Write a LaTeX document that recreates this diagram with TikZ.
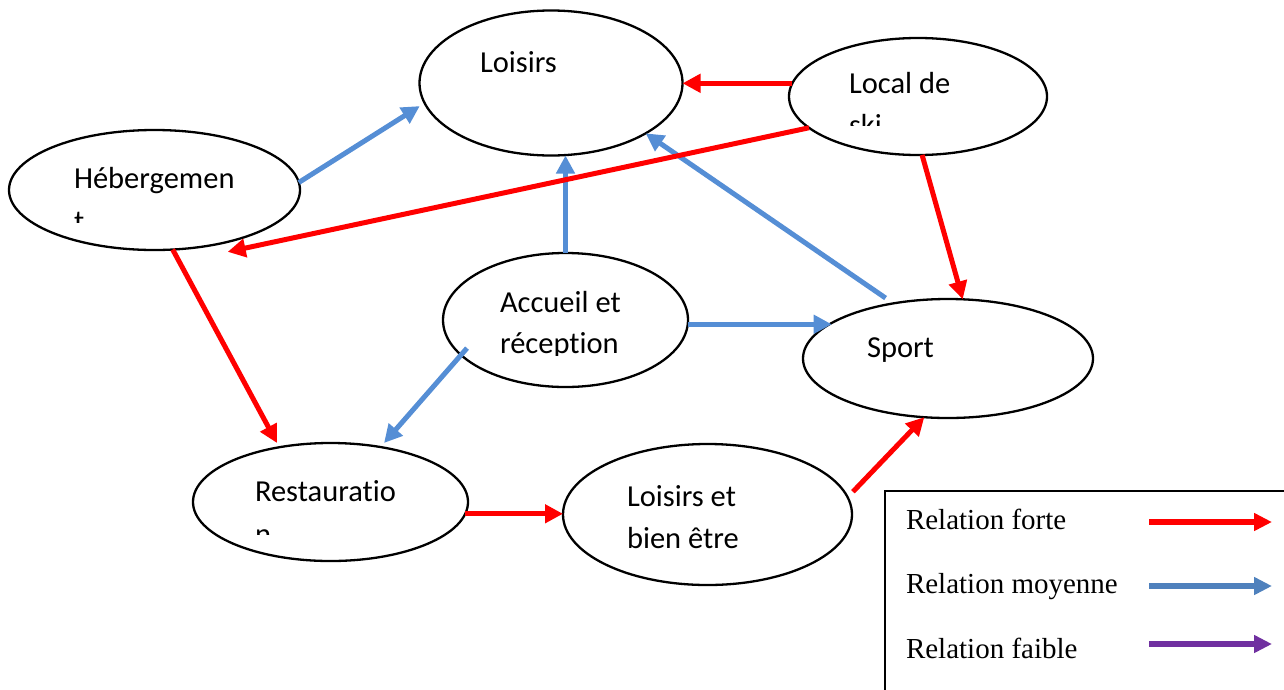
\documentclass[tikz,border=0pt]{standalone}
\usepackage{fontspec}
\setmainfont{Liberation Serif}
\newfontfamily\calib[Ligatures=NoCommon]{Carlito}
\usetikzlibrary{arrows.meta,shapes.geometric}
\definecolor{rforte}{RGB}{255,0,0}
\definecolor{bmoy}{RGB}{85,142,213}
\definecolor{bleg}{RGB}{79,129,189}
\definecolor{pfaible}{RGB}{112,48,160}
\begin{document}
\begin{tikzpicture}[x=1pt,y=-1pt,
  ell/.style={ellipse, draw=black, line width=2.3pt, fill=white, inner sep=0pt, outer sep=0pt},
  lbl/.style={anchor=base west, inner sep=0pt, outer sep=0pt, font=\calib\fontsize{30.5}{36}\selectfont},
  leg/.style={anchor=base west, inner sep=0pt, outer sep=0pt, font=\fontsize{29}{34}\selectfont},
  fort/.style={draw=rforte, line width=5pt, -{Triangle[length=18pt,width=18pt]}},
  moy/.style={draw=bmoy, line width=5pt, -{Triangle[length=18pt,width=18pt]}},
  legarrow/.style={line width=5.5pt, -{Triangle[length=18pt,width=17pt]}},
]
\useasboundingbox (0,0) rectangle (1284,689);
\clip (0,0) rectangle (1284,689);

% ellipses
\node[ell, minimum width=263pt, minimum height=145pt] (loisirs) at (551,83) {};
\node[ell, minimum width=258pt, minimum height=117pt] (local) at (918,96.5) {};
\node[ell, minimum width=291pt, minimum height=120pt] (heberg) at (154.5,190) {};
\node[ell, minimum width=245pt, minimum height=134pt] (accueil) at (565.5,320) {};
\node[ell, minimum width=290pt, minimum height=119pt] (sport) at (948,358.5) {};
\node[ell, minimum width=275pt, minimum height=118pt] (restaur) at (330.5,502) {};
\node[ell, minimum width=289pt, minimum height=141pt] (lbe) at (707.5,514.5) {};

% labels
\node[lbl] (tloisirs) at (480,72) {Loisirs};
\node[lbl] (tlocal) at (849,93) {Local de};
\begin{scope}
  \clip (840,100) rectangle (1000,125);
  \node[lbl] (tski) at (849,135) {ski};
\end{scope}
\node[lbl] (theb) at (74,188) {Hébergemen};
\begin{scope}
  \clip (60,196) rectangle (250,222);
  \node[lbl] (theb2) at (74,231) {t};
\end{scope}
\node[lbl] (tacc) at (500,312) {Accueil et};
\begin{scope}
  \clip (490,320) rectangle (640,355.5);
  \node[lbl] (tacc2) at (500,353) {réception};
\end{scope}
\node[lbl] (tsport) at (867,357) {Sport};
\node[lbl] (trest) at (255,501) {Restauratio};
\begin{scope}
  \clip (240,510) rectangle (420,534);
  \node[lbl] (trest2) at (255,544) {n};
\end{scope}
\node[lbl] (tlbe) at (627,506) {Loisirs et};
\node[lbl] (tlbe2) at (627,548) {bien être};

% medium relations
\draw[moy] (heberg.3.9) -- ([shift={(-6,1)}]loisirs.190.6);
\draw[moy] (accueil.90) -- (accueil.90 |- loisirs.south);
\draw[moy] ([shift={(-4,-6)}]sport.137.1) -- (loisirs.-28);
\draw[moy] (accueil.-2) -- (accueil.-2 -| sport.163.5);
\draw[moy] ([shift={(10,-3)}]accueil.196) -- ([shift={(4,-4)}]restaur.48.8);

% strong relations
\draw[fort] (local.174) -- (local.174 -| loisirs.east);
\draw[fort] (local.196.2) -- ([shift={(9,8)}]heberg.-40);
\draw[fort] (local.-86) -- (sport.76);
\draw[fort] (heberg.-73) -- ([shift={(-4,-4)}]restaur.132.8);
\draw[fort] (restaur.-5.5) -- (restaur.-5.5 -| lbe.west);
\draw[fort] ([shift={(8,-1)}]lbe.9.6) -- (sport.-112.9);

% legend
\node[draw=black, line width=2pt, minimum width=420pt, minimum height=220pt, anchor=north west, inner sep=0pt, outer sep=0pt] (legbox) at (885,491) {};
\node[leg] (l1) at (906,529) {Relation forte};
\node[leg] (l2) at (906,593) {Relation moyenne};
\node[leg] (l3) at (906,658) {Relation faible};
\coordinate (a1s) at (1149,522);
\coordinate (a1e) at (1272,522);
\coordinate (a2s) at (1149,586);
\coordinate (a2e) at (1272,586);
\coordinate (a3s) at (1149,644);
\coordinate (a3e) at (1272,644);
\draw[legarrow, draw=rforte] (a1s) -- (a1e);
\draw[legarrow, draw=bleg] (a2s) -- (a2e);
\draw[legarrow, draw=pfaible] (a3s) -- (a3e);
\end{tikzpicture}
\end{document}
